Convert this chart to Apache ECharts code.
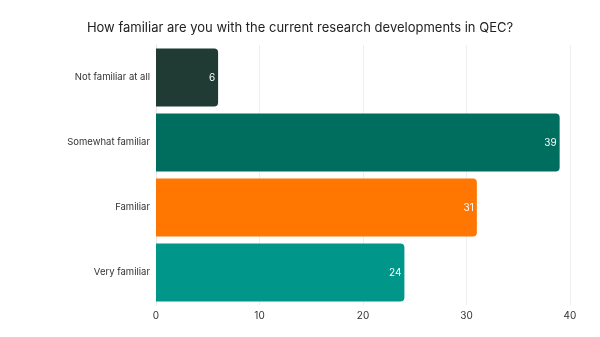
<!DOCTYPE html>
<html>
<head>
<meta charset="utf-8">
<script src="https://cdn.jsdelivr.net/npm/echarts@6/dist/echarts.min.js"></script>
<style>
  html, body { margin: 0; padding: 0; background: #fff; }
  #chart { width: 600px; height: 337px; }
</style>
</head>
<body>
<div id="chart"></div>
<script>
const categories = ['Not familiar at all', 'Somewhat familiar', 'Familiar', 'Very familiar'];
const responses = [6, 39, 31, 24];
const barColors = ['#1f3b33', '#006e5f', '#ff7600', '#00968a'];
const xTicks = [0, 10, 20, 30, 40];

const chart = echarts.init(document.getElementById('chart'));
chart.setOption({
  animation: false,
  textStyle: { fontFamily: 'Inter, "Liberation Sans", sans-serif' },
  title: {
    text: 'How familiar are you with the current research developments in QEC?',
    left: 'center',
    top: 17,
    textStyle: { fontSize: 13, fontWeight: 'normal', color: '#222' }
  },
  grid: { left: 156, right: 30, top: 45, bottom: 32, containLabel: false },
  xAxis: {
    type: 'value',
    min: xTicks[0],
    max: xTicks[xTicks.length - 1],
    interval: 10,
    axisLine: { show: false },
    axisTick: { show: false },
    axisLabel: { color: '#333', fontSize: 10, margin: 6 },
    splitLine: { lineStyle: { color: '#eeeeee' } }
  },
  yAxis: {
    type: 'category',
    data: categories,
    inverse: true,
    axisLine: { show: true, lineStyle: { color: '#e4e4e4' } },
    axisTick: { show: false },
    axisLabel: { color: '#333', fontSize: 9.5, margin: 6 }
  },
  series: [{
    type: 'bar',
    data: responses.map((v, i) => ({ value: v, itemStyle: { color: barColors[i] } })),
    barCategoryGap: '11%',
    itemStyle: { borderRadius: [0, 4, 4, 0] },
    label: {
      show: true,
      position: 'insideRight',
      distance: 3,
      color: '#fff',
      fontSize: 10
    }
  }]
});
</script>
</body>
</html>
